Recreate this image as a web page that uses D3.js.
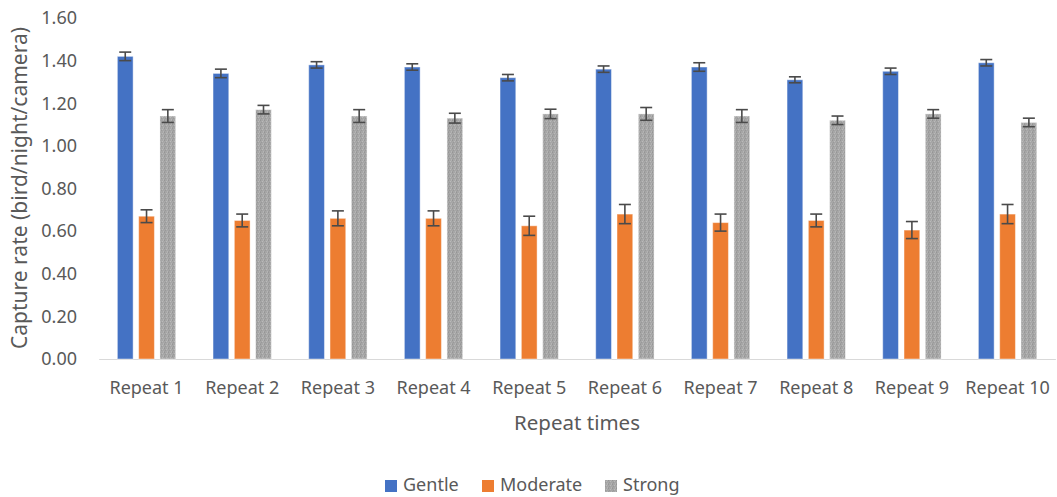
<!DOCTYPE html>
<html>
<head>
<meta charset="utf-8">
<script src="https://cdn.jsdelivr.net/npm/d3@7"></script>
<style>
  body { margin: 0; background: #fff; }
  text { font-family: "Noto Sans", "Open Sans", sans-serif; fill: #595959; }
</style>
</head>
<body>
<div id="chart"></div>
<script>
const categories = ["Repeat 1", "Repeat 2", "Repeat 3", "Repeat 4", "Repeat 5",
                    "Repeat 6", "Repeat 7", "Repeat 8", "Repeat 9", "Repeat 10"];
const seriesNames = ["Gentle", "Moderate", "Strong"];
const gentle      = [1.42, 1.34, 1.38, 1.37, 1.32, 1.36, 1.37, 1.31, 1.35, 1.39];
const gentleErr   = [0.02, 0.02, 0.015, 0.015, 0.015, 0.015, 0.02, 0.014, 0.015, 0.015];
const moderate    = [0.67, 0.65, 0.66, 0.66, 0.625, 0.68, 0.64, 0.65, 0.605, 0.68];
const moderateErr = [0.03, 0.03, 0.035, 0.035, 0.045, 0.045, 0.04, 0.03, 0.04, 0.045];
const strong      = [1.14, 1.17, 1.14, 1.13, 1.15, 1.15, 1.14, 1.12, 1.15, 1.11];
const strongErr   = [0.03, 0.02, 0.03, 0.023, 0.022, 0.03, 0.03, 0.02, 0.02, 0.02];
const yTicks      = [0, 0.2, 0.4, 0.6, 0.8, 1.0, 1.2, 1.4, 1.6];

const values = [gentle, moderate, strong];
const errors = [gentleErr, moderateErr, strongErr];
const colors = ["#4472C4", "#ED7D31", "url(#grayTex)"];

const W = 1057, H = 497;
const svg = d3.select("#chart").append("svg")
    .attr("width", W).attr("height", H);

// texture for the gray series
const pat = svg.append("defs").append("pattern")
    .attr("id", "grayTex").attr("patternUnits", "userSpaceOnUse")
    .attr("width", 4).attr("height", 4);
pat.append("rect").attr("width", 4).attr("height", 4).attr("fill", "#a6a6a6");
[[0,0,"#959595"],[2,1,"#bababa"],[1,2,"#999999"],[3,3,"#b5b5b5"],[3,0,"#b0b0b0"],[0,3,"#9d9d9d"]]
  .forEach(p => pat.append("rect").attr("x", p[0]).attr("y", p[1])
      .attr("width", 1).attr("height", 1).attr("fill", p[2]));

const x = d3.scaleBand()
    .domain(categories)
    .range([98.7, 1055.4])
    .padding(0);

const bw = x.bandwidth();
const x1 = d3.scaleBand()
    .domain(seriesNames)
    .range([bw * 0.195, bw * 0.805])
    .paddingInner(0.26);

const y = d3.scaleLinear()
    .domain([0, 1.6])
    .range([359, 18]);

// y axis labels
const yAxis = d3.axisLeft(y).tickValues(yTicks).tickFormat(d3.format(".2f")).tickSize(0).tickPadding(0);
const gy = svg.append("g").attr("transform", "translate(77,0)").call(yAxis);
gy.select(".domain").remove();
gy.selectAll("text").style("font-size", "18px").attr("fill", "#595959");

// x axis
const xAxis = d3.axisBottom(x).tickSize(0).tickPadding(0);
const gx = svg.append("g").attr("transform", "translate(0,359)").call(xAxis);
gx.select(".domain").attr("stroke", "#d9d9d9").attr("stroke-width", 1);
gx.selectAll("text").style("font-size", "18px").attr("fill", "#595959")
    .attr("dy", null).attr("y", 35);

// bars
seriesNames.forEach((s, si) => {
  const g = svg.append("g").attr("class", "series-" + s);
  g.selectAll("rect")
    .data(categories.map((c, i) => ({c: c, v: values[si][i], e: errors[si][i]})))
    .enter().append("rect")
    .attr("x", d => x(d.c) + x1(s))
    .attr("y", d => y(d.v))
    .attr("width", x1.bandwidth())
    .attr("height", d => y(0) - y(d.v))
    .attr("fill", colors[si])
    .attr("stroke", "rgba(255,255,255,0.45)")
    .attr("stroke-width", 1);

  const eb = svg.append("g").attr("class", "err-" + s)
    .attr("stroke", "#4a4a4a").attr("stroke-width", 1.6);
  const pts = categories.map((c, i) => ({cx: x(c) + x1(s) + x1.bandwidth() / 2,
                                          hi: y(values[si][i] + errors[si][i]),
                                          lo: y(values[si][i] - errors[si][i])}));
  eb.selectAll(".v").data(pts).enter().append("line")
    .attr("x1", d => d.cx).attr("x2", d => d.cx).attr("y1", d => d.hi).attr("y2", d => d.lo);
  eb.selectAll(".t").data(pts).enter().append("line")
    .attr("x1", d => d.cx - 6).attr("x2", d => d.cx + 6).attr("y1", d => d.hi).attr("y2", d => d.hi);
  eb.selectAll(".b").data(pts).enter().append("line")
    .attr("x1", d => d.cx - 6).attr("x2", d => d.cx + 6).attr("y1", d => d.lo).attr("y2", d => d.lo);
});

// axis titles
svg.append("text")
    .attr("x", 577).attr("y", 430)
    .attr("text-anchor", "middle")
    .style("font-size", "20.5px")
    .text("Repeat times");

svg.append("text")
    .attr("transform", "translate(27,188) rotate(-90)")
    .attr("text-anchor", "middle")
    .style("font-size", "21px")
    .text("Capture rate (bird/night/camera)");

// legend
const legendX = [385, 482, 605];
const lg = svg.append("g");
seriesNames.forEach((s, i) => {
  lg.append("rect").attr("x", legendX[i]).attr("y", 480)
    .attr("width", 12).attr("height", 12).attr("fill", colors[i]);
  lg.append("text").attr("x", legendX[i] + 18).attr("y", 491)
    .style("font-size", "18px").text(s);
});
</script>
</body>
</html>
